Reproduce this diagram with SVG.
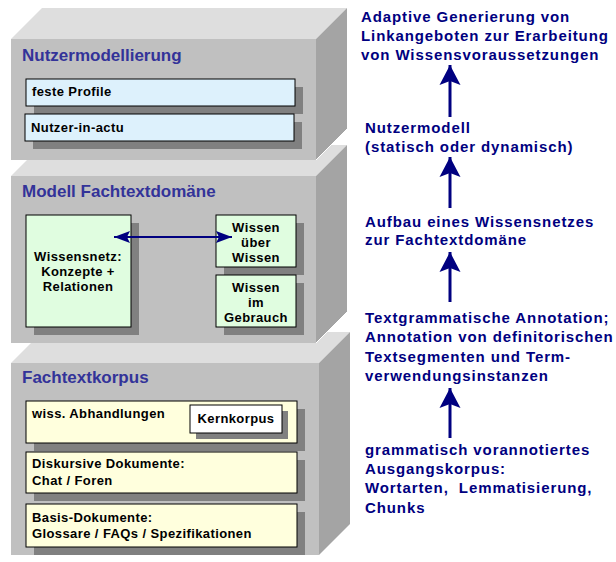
<svg xmlns="http://www.w3.org/2000/svg" width="616" height="562" viewBox="0 0 616 562">
<defs>
<style>
.front{fill:#C0C0C0}
.top{fill:#DEDEDE}
.side{fill:#A4A4A4}
.edge{fill:none;stroke:#FFFFFF;stroke-width:1}
.sh{fill:#808080}
.bx{stroke:#000;stroke-width:1}
.blue{fill:#DDF1FC}
.green{fill:#E0FDE0}
.yel{fill:#FFFFDD}
.wh{fill:#FFFFFF}
.ttl{font-family:"Liberation Sans",Arial,sans-serif;font-weight:bold;font-size:17px;fill:#333399}
.t{font-family:"Liberation Sans",Arial,sans-serif;font-weight:bold;font-size:13px;letter-spacing:0.4px;fill:#000}
.tc{font-family:"Liberation Sans",Arial,sans-serif;font-weight:bold;font-size:13px;letter-spacing:0.4px;fill:#000;text-anchor:middle}
.r{font-family:"Liberation Sans",Arial,sans-serif;font-weight:bold;font-size:15px;letter-spacing:0.9px;fill:#000080}
.conn{stroke:#000080;fill:none}
</style>
<marker id="bigHead" markerUnits="userSpaceOnUse" markerWidth="24" markerHeight="24" viewBox="0 0 24 24" refX="20" refY="12" orient="auto">
<path d="M20,12 L0,1.5 L4,12 L0,22.5 Z" fill="#000080"/>
</marker>
<marker id="smHead" markerUnits="userSpaceOnUse" markerWidth="18" markerHeight="14" viewBox="0 0 18 14" refX="16" refY="7" orient="auto-start-reverse">
<path d="M16,7 L0,1 L3,7 L0,13 Z" fill="#000080"/>
</marker>
</defs>

<!-- Box 3: Fachtextkorpus -->
<g id="fachtextkorpus">
<polygon class="top" points="11,363 42,332 350,332 319,363"/>
<polygon class="side" points="319,363 350,332 350,524 319,555"/>
<rect class="front" x="11" y="363" width="308" height="192"/>
<text class="ttl" x="22" y="383">Fachtextkorpus</text>
<g id="abhandlungen">
<rect class="sh" x="34" y="409" width="271" height="42"/>
<rect class="bx yel" x="26" y="401" width="271" height="42"/>
<text class="t" x="32" y="418">wiss. Abhandlungen</text>
</g>
<g id="kernkorpus">
<rect class="sh" x="196" y="411" width="92" height="28"/>
<rect class="bx wh" x="190" y="405" width="92" height="28"/>
<text class="tc" x="236" y="423">Kernkorpus</text>
</g>
<g id="diskursive">
<rect class="sh" x="34" y="460" width="271" height="41"/>
<rect class="bx yel" x="26" y="452" width="271" height="41"/>
<text class="t" x="32" y="468">Diskursive Dokumente:</text>
<text class="t" x="32" y="485">Chat / Foren</text>
</g>
<g id="basis">
<rect class="sh" x="34" y="512" width="271" height="43"/>
<rect class="bx yel" x="26" y="504" width="271" height="43"/>
<text class="t" x="32" y="522">Basis-Dokumente:</text>
<text class="t" x="32" y="538">Glossare / FAQs / Spezifikationen</text>
</g>
</g>

<!-- Box 2: Modell Fachtextdomäne -->
<g id="modell">
<polygon class="top" points="11,176 42,145 347,145 316,176"/>
<polygon class="side" points="316,176 347,145 347,312 316,343"/>
<rect class="front" x="11" y="176" width="305" height="167"/>
<polyline class="edge" points="316,343 347,312"/>
<text class="ttl" x="22" y="197">Modell Fachtextdomäne</text>
<g id="wissensnetz">
<rect class="sh" x="34" y="223" width="105" height="112"/>
<rect class="bx green" x="26" y="215" width="105" height="112"/>
<text class="tc" x="78" y="261">Wissensnetz:</text>
<text class="tc" x="78" y="276">Konzepte +</text>
<text class="tc" x="78" y="291">Relationen</text>
</g>
<g id="wissen-ueber">
<rect class="sh" x="224" y="223" width="80" height="52"/>
<rect class="bx green" x="216" y="215" width="80" height="52"/>
<text class="tc" x="256" y="232">Wissen</text>
<text class="tc" x="256" y="247">über</text>
<text class="tc" x="256" y="262">Wissen</text>
</g>
<g id="wissen-im">
<rect class="sh" x="224" y="283" width="80" height="52"/>
<rect class="bx green" x="216" y="275" width="80" height="52"/>
<text class="tc" x="256" y="292">Wissen</text>
<text class="tc" x="256" y="307">im</text>
<text class="tc" x="256" y="322">Gebrauch</text>
</g>
</g>

<!-- Box 1: Nutzermodellierung -->
<g id="nutzermodellierung">
<polygon class="top" points="11,39 42,8 347,8 316,39"/>
<polygon class="side" points="316,39 347,8 347,129 316,160"/>
<rect class="front" x="11" y="39" width="305" height="121"/>
<polyline class="edge" points="316,160 347,129"/>
<text class="ttl" x="22" y="61">Nutzermodellierung</text>
<g id="feste-profile">
<rect class="sh" x="34" y="87" width="269" height="27"/>
<rect class="bx blue" x="26" y="79" width="269" height="27"/>
<text class="t" x="32" y="96">feste Profile</text>
</g>
<g id="nutzer-in-actu">
<rect class="sh" x="33" y="122" width="269" height="27"/>
<rect class="bx blue" x="25" y="114" width="269" height="27"/>
<text class="t" x="31" y="132">Nutzer-in-actu</text>
</g>
</g>

<!-- Right side labels -->
<g id="label-adaptive">
<text class="r" x="361" y="22">Adaptive Generierung von</text>
<text class="r" x="361" y="41">Linkangeboten zur Erarbeitung</text>
<text class="r" x="361" y="60">von Wissensvoraussetzungen</text>
</g>
<g id="label-nutzermodell">
<text class="r" x="365" y="133">Nutzermodell</text>
<text class="r" x="365" y="152">(statisch oder dynamisch)</text>
</g>
<g id="label-aufbau">
<text class="r" x="365" y="227">Aufbau eines Wissensnetzes</text>
<text class="r" x="365" y="245">zur Fachtextdomäne</text>
</g>
<g id="label-annotation">
<text class="r" x="365" y="323">Textgrammatische Annotation;</text>
<text class="r" x="365" y="342">Annotation von definitorischen</text>
<text class="r" x="365" y="362">Textsegmenten und Term-</text>
<text class="r" x="365" y="381">verwendungsinstanzen</text>
</g>
<g id="label-korpus">
<text class="r" x="365" y="455">grammatisch vorannotiertes</text>
<text class="r" x="365" y="474">Ausgangskorpus:</text>
<text class="r" x="365" y="493" xml:space="preserve">Wortarten,  Lemmatisierung,</text>
<text class="r" x="365" y="513">Chunks</text>
</g>

<!-- Connectors -->
<g id="connectors">
<line class="conn" x1="450" y1="117" x2="450" y2="65" stroke-width="3" marker-end="url(#bigHead)"/>
<line class="conn" x1="450" y1="208" x2="450" y2="157" stroke-width="3" marker-end="url(#bigHead)"/>
<line class="conn" x1="450" y1="302" x2="450" y2="252" stroke-width="3" marker-end="url(#bigHead)"/>
<line class="conn" x1="450" y1="438" x2="450" y2="388" stroke-width="3" marker-end="url(#bigHead)"/>
<line class="conn" x1="114" y1="237" x2="232" y2="237" stroke-width="2" marker-start="url(#smHead)" marker-end="url(#smHead)"/>
</g>
</svg>
